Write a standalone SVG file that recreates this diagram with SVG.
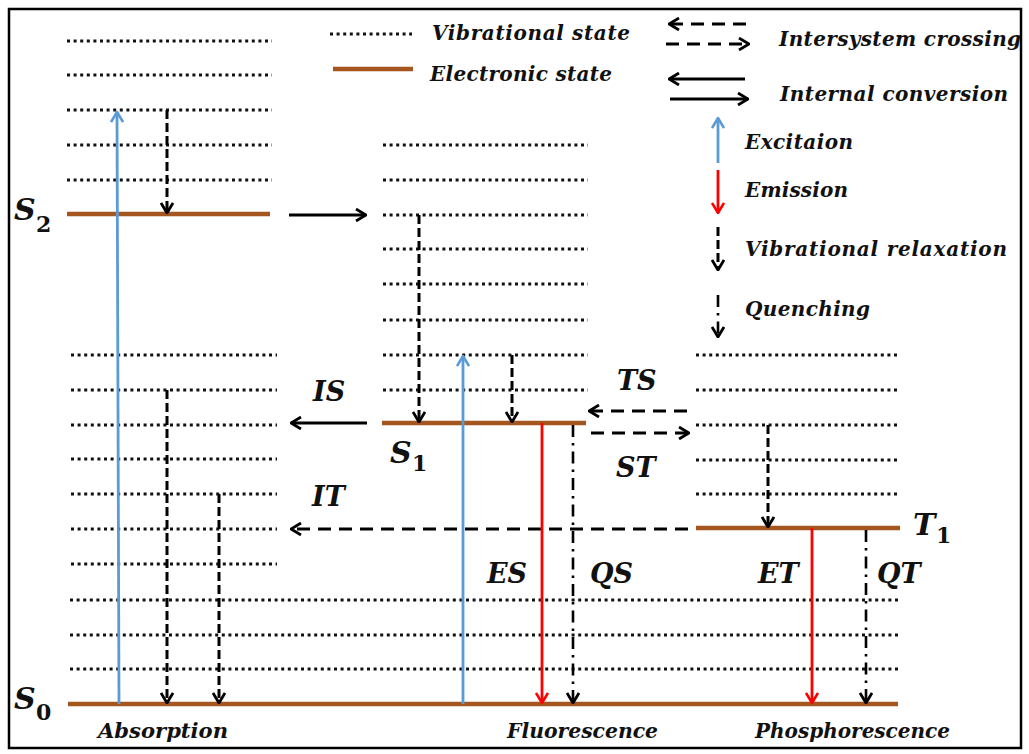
<svg xmlns="http://www.w3.org/2000/svg" width="1029" height="754" viewBox="0 0 1029 754">
  <style>
    .frame { fill: #fff; stroke: #000; stroke-width: 2.5; }
    .vib { stroke: #111; stroke-width: 3; stroke-dasharray: 3 3.6; fill: none; }
    .elec { stroke: #A5561F; stroke-width: 4.5; fill: none; }
    .ic { stroke: #000; stroke-width: 3; fill: none; }
    .isc { stroke: #000; stroke-width: 2.8; stroke-dasharray: 13 8; fill: none; }
    .vr { stroke: #000; stroke-width: 3; stroke-dasharray: 9 4; fill: none; }
    .qn { stroke: #000; stroke-width: 2.6; stroke-dasharray: 12 6 2.5 6; fill: none; }
    .exc { stroke: #5B9BD5; stroke-width: 2.8; fill: none; }
    .emi { stroke: #FF0000; stroke-width: 2.8; fill: none; }
    text { font-family: "DejaVu Serif", "Liberation Serif", serif; font-weight: bold; font-style: italic; fill: #111; }
    .leg { font-size: 20px; }
    .lab { font-size: 27px; }
    .lvl { font-size: 30px; }
    .sub { font-size: 22px; font-style: normal; }
    .bot { font-family: "DejaVu Serif Condensed", "DejaVu Serif", serif; font-size: 21px; }
  </style>
  <defs>
    <marker id="hk" markerUnits="userSpaceOnUse" viewBox="0 0 12 14" refX="11" refY="7" markerWidth="12" markerHeight="14" orient="auto">
      <path d="M1,1 L11,7 L1,13" fill="none" stroke="#000" stroke-width="2.8"/>
    </marker>
    <marker id="hb" markerUnits="userSpaceOnUse" viewBox="0 0 12 14" refX="11" refY="7" markerWidth="12" markerHeight="14" orient="auto">
      <path d="M1,1 L11,7 L1,13" fill="none" stroke="#5B9BD5" stroke-width="2.6"/>
    </marker>
    <marker id="hr" markerUnits="userSpaceOnUse" viewBox="0 0 12 14" refX="11" refY="7" markerWidth="12" markerHeight="14" orient="auto">
      <path d="M1,1 L11,7 L1,13" fill="none" stroke="#FF0000" stroke-width="2.6"/>
    </marker>
  </defs>

  <rect class="frame" x="9" y="9" width="1012" height="739"/>

  <!-- legend -->
  <g id="legend">
    <line class="vib" x1="330" y1="34" x2="412" y2="34"/>
    <text class="leg" x="432" y="40" textLength="198" lengthAdjust="spacing">Vibrational state</text>
    <line class="elec" x1="333" y1="69" x2="413" y2="69"/>
    <text class="leg" x="430" y="81" textLength="182" lengthAdjust="spacing">Electronic state</text>

    <line class="isc" x1="746" y1="24" x2="669" y2="24" marker-end="url(#hk)"/>
    <line class="isc" x1="666" y1="44" x2="749" y2="44" marker-end="url(#hk)"/>
    <text class="leg" x="779" y="46" textLength="242" lengthAdjust="spacing">Intersystem crossing</text>
    <line class="ic" x1="745" y1="79" x2="669" y2="79" marker-end="url(#hk)"/>
    <line class="ic" x1="670" y1="99" x2="748" y2="99" marker-end="url(#hk)"/>
    <text class="leg" x="780" y="101" textLength="228" lengthAdjust="spacing">Internal conversion</text>

    <line class="exc" x1="718" y1="163" x2="718" y2="118" marker-end="url(#hb)"/>
    <text class="leg" x="745" y="149" textLength="108" lengthAdjust="spacing">Excitaion</text>
    <line class="emi" x1="718" y1="170" x2="718" y2="213" marker-end="url(#hr)"/>
    <text class="leg" x="745" y="197" textLength="103" lengthAdjust="spacing">Emission</text>
    <line class="vr" x1="718" y1="227" x2="718" y2="270" marker-end="url(#hk)"/>
    <text class="leg" x="745" y="256" textLength="262" lengthAdjust="spacing">Vibrational relaxation</text>
    <line class="qn" x1="718" y1="295" x2="718" y2="337" marker-end="url(#hk)"/>
    <text class="leg" x="745" y="316" textLength="125" lengthAdjust="spacing">Quenching</text>
  </g>

  <!-- S2 manifold -->
  <g id="S2">
    <line class="vib" x1="67" y1="41" x2="272" y2="41"/>
    <line class="vib" x1="67" y1="75" x2="272" y2="75"/>
    <line class="vib" x1="67" y1="110" x2="272" y2="110"/>
    <line class="vib" x1="67" y1="145" x2="272" y2="145"/>
    <line class="vib" x1="67" y1="180" x2="272" y2="180"/>
    <line class="elec" x1="67" y1="214" x2="270" y2="214"/>
    <text class="lvl" x="14" y="220">S</text>
    <text class="sub" x="36" y="232">2</text>
  </g>

  <!-- S1 manifold -->
  <g id="S1">
    <line class="vib" x1="383" y1="145" x2="588" y2="145"/>
    <line class="vib" x1="383" y1="180" x2="588" y2="180"/>
    <line class="vib" x1="383" y1="215" x2="588" y2="215"/>
    <line class="vib" x1="383" y1="249" x2="588" y2="249"/>
    <line class="vib" x1="383" y1="284" x2="588" y2="284"/>
    <line class="vib" x1="383" y1="320" x2="588" y2="320"/>
    <line class="vib" x1="383" y1="355" x2="588" y2="355"/>
    <line class="vib" x1="383" y1="390" x2="588" y2="390"/>
    <line class="elec" x1="382" y1="423" x2="586" y2="423"/>
    <text class="lvl" x="390" y="463">S</text>
    <text class="sub" x="412" y="471">1</text>
  </g>

  <!-- T1 manifold -->
  <g id="T1">
    <line class="vib" x1="696" y1="355" x2="900" y2="355"/>
    <line class="vib" x1="696" y1="390" x2="900" y2="390"/>
    <line class="vib" x1="696" y1="425" x2="900" y2="425"/>
    <line class="vib" x1="696" y1="460" x2="900" y2="460"/>
    <line class="vib" x1="696" y1="494" x2="900" y2="494"/>
    <line class="elec" x1="696" y1="528" x2="900" y2="528"/>
    <text class="lvl" x="913" y="535">T</text>
    <text class="sub" x="936" y="543">1</text>
  </g>

  <!-- S0 manifold -->
  <g id="S0">
    <line class="vib" x1="71" y1="355" x2="277" y2="355"/>
    <line class="vib" x1="71" y1="390" x2="277" y2="390"/>
    <line class="vib" x1="71" y1="425" x2="277" y2="425"/>
    <line class="vib" x1="71" y1="459" x2="277" y2="459"/>
    <line class="vib" x1="71" y1="494" x2="277" y2="494"/>
    <line class="vib" x1="71" y1="529" x2="277" y2="529"/>
    <line class="vib" x1="71" y1="564" x2="277" y2="564"/>
    <line class="vib" x1="70" y1="600" x2="898" y2="600"/>
    <line class="vib" x1="70" y1="635" x2="898" y2="635"/>
    <line class="vib" x1="70" y1="669" x2="898" y2="669"/>
    <line class="elec" x1="68" y1="704" x2="898" y2="704"/>
    <text class="lvl" x="14" y="709">S</text>
    <text class="sub" x="36" y="720">0</text>
  </g>

  <!-- transitions -->
  <g id="connectors">
    <!-- excitation -->
    <line class="exc" x1="119" y1="704" x2="117" y2="112" marker-end="url(#hb)"/>
    <line class="exc" x1="463" y1="704" x2="463" y2="356" marker-end="url(#hb)"/>
    <!-- vibrational relaxation -->
    <line class="vr" x1="167" y1="110" x2="167" y2="213" marker-end="url(#hk)"/>
    <line class="vr" x1="419" y1="215" x2="419" y2="422" marker-end="url(#hk)"/>
    <line class="vr" x1="512" y1="355" x2="512" y2="422" marker-end="url(#hk)"/>
    <line class="vr" x1="768" y1="425" x2="768" y2="527" marker-end="url(#hk)"/>
    <line class="vr" x1="167" y1="390" x2="167" y2="703" marker-end="url(#hk)"/>
    <line class="vr" x1="219" y1="494" x2="219" y2="703" marker-end="url(#hk)"/>
    <!-- internal conversion -->
    <line class="ic" x1="289" y1="215" x2="366" y2="215" marker-end="url(#hk)"/>
    <line class="ic" x1="367" y1="423" x2="291" y2="423" marker-end="url(#hk)"/>
    <!-- intersystem crossing -->
    <line class="isc" x1="687" y1="411" x2="589" y2="411" marker-end="url(#hk)"/>
    <line class="isc" x1="591" y1="433" x2="689" y2="433" marker-end="url(#hk)"/>
    <line class="isc" x1="688" y1="529" x2="291" y2="529" marker-end="url(#hk)"/>
    <!-- emission -->
    <line class="emi" x1="542" y1="423" x2="542" y2="703" marker-end="url(#hr)"/>
    <line class="emi" x1="812" y1="528" x2="812" y2="703" marker-end="url(#hr)"/>
    <!-- quenching -->
    <line class="qn" x1="573" y1="425" x2="573" y2="703" marker-end="url(#hk)"/>
    <line class="qn" x1="866" y1="530" x2="866" y2="703" marker-end="url(#hk)"/>
  </g>

  <!-- rate labels -->
  <g id="labels">
    <text class="lab" x="313" y="401">IS</text>
    <text class="lab" x="617" y="390">TS</text>
    <text class="lab" x="616" y="477">ST</text>
    <text class="lab" x="312" y="506">IT</text>
    <text class="lab" x="487" y="583">ES</text>
    <text class="lab" x="590" y="583">QS</text>
    <text class="lab" x="758" y="583">ET</text>
    <text class="lab" x="877" y="583">QT</text>
  </g>

  <!-- process names -->
  <g id="processes">
    <text class="bot" x="98" y="738" textLength="130" lengthAdjust="spacingAndGlyphs">Absorption</text>
    <text class="bot" x="507" y="738" textLength="151" lengthAdjust="spacingAndGlyphs">Fluorescence</text>
    <text class="bot" x="755" y="738" textLength="195" lengthAdjust="spacingAndGlyphs">Phosphorescence</text>
  </g>
</svg>
